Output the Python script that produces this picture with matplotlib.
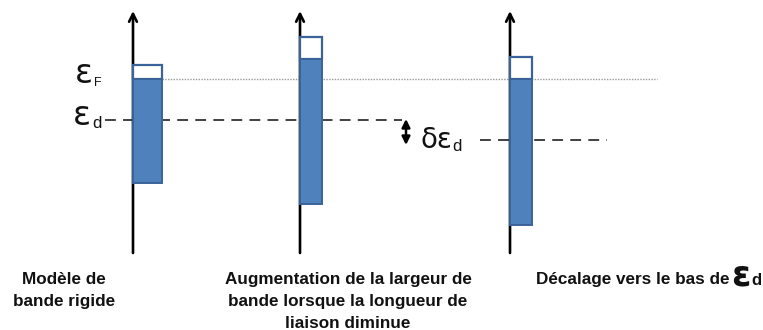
import matplotlib
matplotlib.use("Agg")
import matplotlib.pyplot as plt
from matplotlib.patches import Rectangle

# d-band energy levels for each panel (pixel-style energy scale, smaller = higher)
panels = ["rigid", "wide", "shifted"]
axis_x = [133, 300, 510]
band_width = [29, 22, 22]
band_top = [65, 37, 57]
band_fermi = [79, 59, 79]
band_bottom = [183, 204, 225]
fermi_level = 79
eps_d = [120, 120, 140]
captions = [["Modèle de", "bande rigide"],
            ["Augmentation de la largeur de", "bande lorsque la longueur de",
             "liaison diminue"],
            ["Décalage vers le bas de "]]
caption_x = [64, 348, 536]

W, H = 763, 330
fig = plt.figure(figsize=(W / 100, H / 100), dpi=100)
ax = fig.add_axes([0, 0, 1, 1])
ax.set_xlim(0, W)
ax.set_ylim(H, 0)
ax.axis("off")

fill_c = "#4F81BD"
edge_c = "#3A639A"
ink = "#111111"
font = ["Liberation Sans", "DejaVu Sans"]

# Fermi level (dotted grey)
ax.plot([162, 657], [fermi_level, fermi_level], color="#9a9a9a", lw=1.0,
        ls=(0, (1, 1)), zorder=1)

# d-band centres (dashed)
ax.plot([105, 402], [eps_d[0], eps_d[0]], color="#333333", lw=1.3,
        ls=(0, (6, 4)), zorder=1)
ax.plot([480, 607], [eps_d[2], eps_d[2]], color="#333333", lw=1.3,
        ls=(0, (6, 4)), zorder=1)

for i, x in enumerate(axis_x):
    # energy axis with arrow
    ax.annotate("", xy=(x, 11), xytext=(x, 253),
                arrowprops=dict(arrowstyle="->", lw=1.9, color="black",
                                mutation_scale=14, shrinkA=0, shrinkB=0),
                zorder=3)
    w = band_width[i]
    # empty states above the Fermi level
    ax.add_patch(Rectangle((x, band_top[i]), w, band_fermi[i] - band_top[i],
                           facecolor="white", edgecolor=edge_c, lw=1.6, zorder=4))
    # occupied states
    ax.add_patch(Rectangle((x, band_fermi[i]), w, band_bottom[i] - band_fermi[i],
                           facecolor=fill_c, edgecolor=edge_c, lw=1.4, zorder=4))

# level labels
ax.text(75, 83, "ε", fontsize=24, ha="left", va="baseline", family="DejaVu Sans", color=ink)
ax.text(94, 86, "F", fontsize=9, ha="left", va="baseline", family=font, color=ink)
ax.text(73, 125, "ε", fontsize=24, ha="left", va="baseline", family="DejaVu Sans", color=ink)
ax.text(92, 128, "d", fontsize=12, ha="left", va="baseline", family=font, color=ink)

# shift indicator
ax.annotate("", xy=(406, 119), xytext=(406, 145),
            arrowprops=dict(arrowstyle="<|-|>", lw=1.8, color="black",
                            mutation_scale=12, shrinkA=0, shrinkB=0))
ax.text(421, 148, "δε", fontsize=20, ha="left", va="baseline", family="DejaVu Sans", color=ink)
ax.text(452, 151, "d", fontsize=12, ha="left", va="baseline", family=font, color=ink)

# captions, one line at a time
baselines = [284, 306, 328]
for i in range(3):
    ha = "left" if i == 2 else "center"
    for j, line in enumerate(captions[i]):
        ax.text(caption_x[i], baselines[j], line, fontsize=12.3, fontweight="bold",
                ha=ha, va="baseline", family=font, color=ink)
ax.text(731, 285, "ε", fontsize=25, fontweight="bold", ha="left", va="baseline",
        family="DejaVu Sans", color=ink)
ax.text(751, 285, "d", fontsize=12, fontweight="bold", ha="left", va="baseline",
        family=font, color=ink)

fig.savefig("out.png", dpi=100)
